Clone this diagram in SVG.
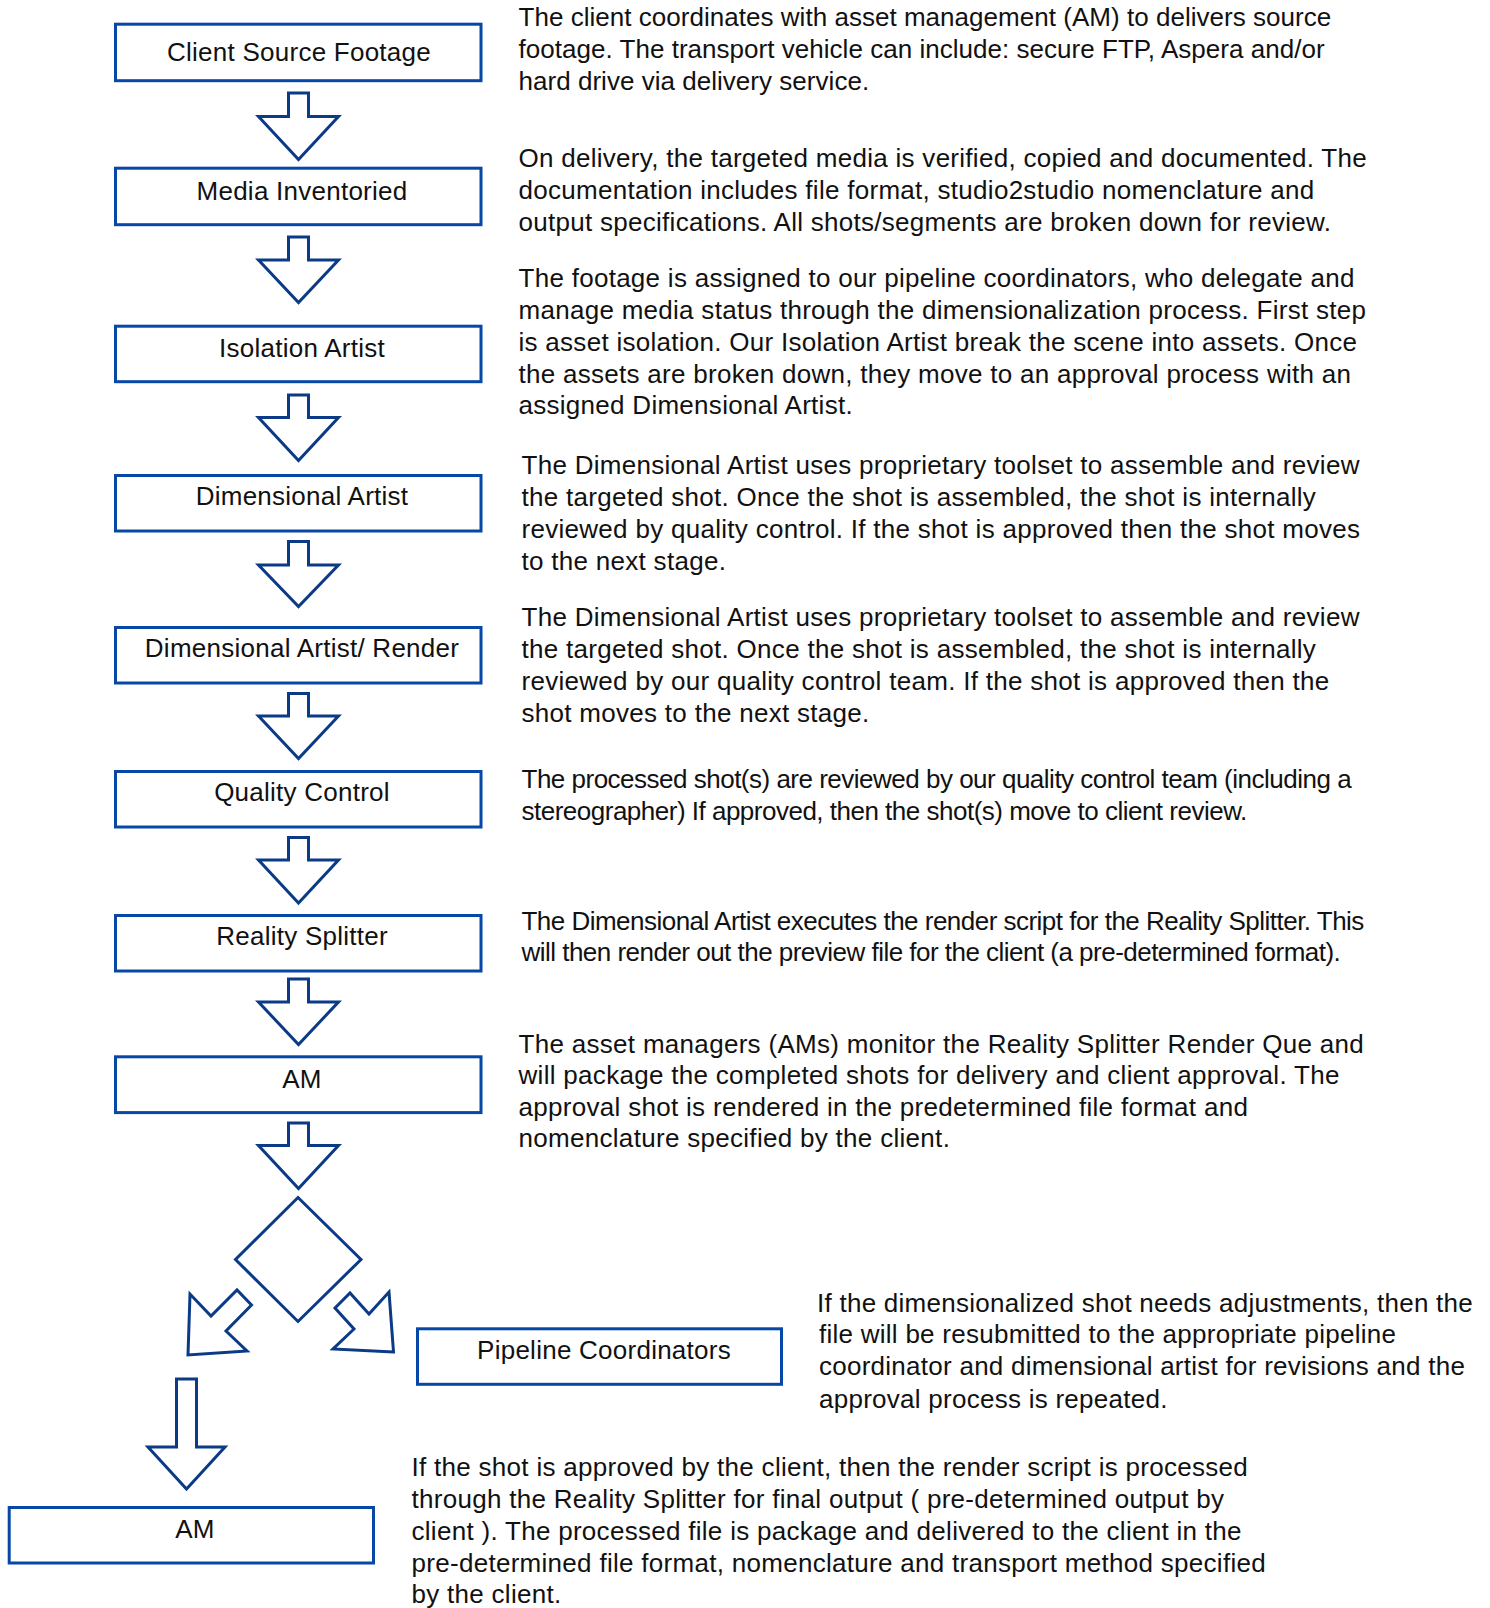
<svg xmlns="http://www.w3.org/2000/svg" width="1490" height="1608" viewBox="0 0 1490 1608">
<defs>
<style>
.box{fill:#ffffff;stroke:#0747a6;stroke-width:3}
.arr{fill:#ffffff;stroke:#0b3a86;stroke-width:3;stroke-linejoin:miter}
.lbl{font-family:"Liberation Sans",Arial,Helvetica,sans-serif;font-size:26px;fill:#111111;text-anchor:middle;letter-spacing:0.25px}
.txt{font-family:"Liberation Sans",Arial,Helvetica,sans-serif;font-size:26px;fill:#111111}
</style>
</defs>
<rect x="0" y="0" width="1490" height="1608" fill="#ffffff"/>

<g id="connectors">
<polygon class="arr" points="288.5,93 308.5,93 308.5,116.5 338.5,116.5 298.5,159.5 258.5,116.5 288.5,116.5"/>
<polygon class="arr" points="288.5,237 308.5,237 308.5,260 338.5,260 298.5,302.5 258.5,260 288.5,260"/>
<polygon class="arr" points="288.5,395 308.5,395 308.5,417.5 338.5,417.5 298.5,460.5 258.5,417.5 288.5,417.5"/>
<polygon class="arr" points="288.5,541.5 308.5,541.5 308.5,565 338.5,565 298.5,606.5 258.5,565 288.5,565"/>
<polygon class="arr" points="288.5,693.5 308.5,693.5 308.5,716 338.5,716 298.5,758.5 258.5,716 288.5,716"/>
<polygon class="arr" points="288.5,837.5 308.5,837.5 308.5,860 338.5,860 298.5,903 258.5,860 288.5,860"/>
<polygon class="arr" points="288.5,979 308.5,979 308.5,1002 338.5,1002 298.5,1044.5 258.5,1002 288.5,1002"/>
<polygon class="arr" points="288.5,1123 308.5,1123 308.5,1145.5 338.5,1145.5 298.5,1188.5 258.5,1145.5 288.5,1145.5"/>
<polygon class="arr" points="188,1355 190,1294 211,1316 237,1290 251.5,1305 226,1331 247,1351"/>
<polygon class="arr" points="393.5,1352 333,1349 354,1329 335,1308 350,1293 369,1314 389,1292"/>
<polygon class="arr" points="176.5,1379 196.5,1379 196.5,1447 225,1447 186.5,1489 148,1447 176.5,1447"/>
</g>

<g id="node-client-source-footage">
<rect class="box" x="115.5" y="24.2" width="365.5" height="56.5"/>
<text class="lbl" x="299" y="61">Client Source Footage</text>
</g>
<g id="node-media-inventoried">
<rect class="box" x="115.5" y="168.2" width="365.5" height="56.5"/>
<text class="lbl" x="302" y="200">Media Inventoried</text>
</g>
<g id="node-isolation-artist">
<rect class="box" x="115.5" y="326.2" width="365.5" height="55.5"/>
<text class="lbl" x="302" y="357.3">Isolation Artist</text>
</g>
<g id="node-dimensional-artist">
<rect class="box" x="115.5" y="475.5" width="365.5" height="55.5"/>
<text class="lbl" x="302" y="505.3">Dimensional Artist</text>
</g>
<g id="node-dimensional-artist-render">
<rect class="box" x="115.5" y="627.5" width="365.5" height="55.5"/>
<text class="lbl" x="302" y="656.7">Dimensional Artist/ Render</text>
</g>
<g id="node-quality-control">
<rect class="box" x="115.5" y="771.5" width="365.5" height="55.5"/>
<text class="lbl" x="302" y="800.7">Quality Control</text>
</g>
<g id="node-reality-splitter">
<rect class="box" x="115.5" y="915.5" width="365.5" height="55.5"/>
<text class="lbl" x="302" y="945">Reality Splitter</text>
</g>
<g id="node-am">
<rect class="box" x="115.5" y="1056.8" width="365.5" height="55.8"/>
<text class="lbl" x="302" y="1088">AM</text>
</g>
<g id="node-decision">
<polygon class="arr" points="298,1197.5 361,1259.5 298,1321.5 235.5,1259.5"/>
</g>
<g id="node-pipeline-coordinators">
<rect class="box" x="417.5" y="1328.8" width="364" height="55.5"/>
<text class="lbl" x="604" y="1359.3">Pipeline Coordinators</text>
</g>
<g id="node-am-final">
<rect class="box" x="9.2" y="1507.5" width="364.3" height="55.5"/>
<text class="lbl" x="195" y="1537.7">AM</text>
</g>

<g id="descriptions">
<text class="txt" style="letter-spacing:0.03px">
<tspan x="518.5" y="25.7">The client coordinates with asset management (AM) to delivers source</tspan>
<tspan x="518.5" y="58">footage. The transport vehicle can include: secure FTP, Aspera and/or</tspan>
<tspan x="518.5" y="90.3">hard drive via delivery service.</tspan>
</text>
<text class="txt" style="letter-spacing:0.28px">
<tspan x="518.5" y="166.7">On delivery, the targeted media is verified, copied and documented. The</tspan>
<tspan x="518.5" y="199">documentation includes file format, studio2studio nomenclature and</tspan>
<tspan x="518.5" y="230.7">output specifications. All shots/segments are broken down for review.</tspan>
</text>
<text class="txt" style="letter-spacing:0.28px">
<tspan x="518.5" y="287.3">The footage is assigned to our pipeline coordinators, who delegate and</tspan>
<tspan x="518.5" y="318.6">manage media status through the dimensionalization process. First step</tspan>
<tspan x="518.5" y="350.7">is asset isolation. Our Isolation Artist break the scene into assets. Once</tspan>
<tspan x="518.5" y="382.7">the assets are broken down, they move to an approval process with an</tspan>
<tspan x="518.5" y="414.3">assigned Dimensional Artist.</tspan>
</text>
<text class="txt" style="letter-spacing:0.29px">
<tspan x="521.5" y="474">The Dimensional Artist uses proprietary toolset to assemble and review</tspan>
<tspan x="521.5" y="505.7">the targeted shot. Once the shot is assembled, the shot is internally</tspan>
<tspan x="521.5" y="538">reviewed by quality control. If the shot is approved then the shot moves</tspan>
<tspan x="521.5" y="569.5">to the next stage.</tspan>
</text>
<text class="txt" style="letter-spacing:0.29px">
<tspan x="521.5" y="626">The Dimensional Artist uses proprietary toolset to assemble and review</tspan>
<tspan x="521.5" y="658.3">the targeted shot. Once the shot is assembled, the shot is internally</tspan>
<tspan x="521.5" y="690">reviewed by our quality control team. If the shot is approved then the</tspan>
<tspan x="521.5" y="721.7">shot moves to the next stage.</tspan>
</text>
<text class="txt" style="letter-spacing:-0.5px">
<tspan x="521.5" y="788.3">The processed shot(s) are reviewed by our quality control team (including a</tspan>
<tspan x="521.5" y="820">stereographer) If approved, then the shot(s) move to client review.</tspan>
</text>
<text class="txt" style="letter-spacing:-0.52px">
<tspan x="521.5" y="930">The Dimensional Artist executes the render script for the Reality Splitter. This</tspan>
<tspan x="521.5" y="961">will then render out the preview file for the client (a pre-determined format).</tspan>
</text>
<text class="txt" style="letter-spacing:0.3px">
<tspan x="518.5" y="1052.7">The asset managers (AMs) monitor the Reality Splitter Render Que and</tspan>
<tspan x="518.5" y="1084">will package the completed shots for delivery and client approval. The</tspan>
<tspan x="518.5" y="1116">approval shot is rendered in the predetermined file format and</tspan>
<tspan x="518.5" y="1147.3">nomenclature specified by the client.</tspan>
</text>
<text class="txt" style="letter-spacing:0.26px">
<tspan x="817" y="1312.3">If the dimensionalized shot needs adjustments, then the</tspan>
<tspan x="819" y="1343.3">file will be resubmitted to the appropriate pipeline</tspan>
<tspan x="819" y="1375">coordinator and dimensional artist for revisions and the</tspan>
<tspan x="819" y="1407.7">approval process is repeated.</tspan>
</text>
<text class="txt" style="letter-spacing:0.29px">
<tspan x="411.5" y="1476.3">If the shot is approved by the client, then the render script is processed</tspan>
<tspan x="411.5" y="1508">through the Reality Splitter for final output ( pre-determined output by</tspan>
<tspan x="411.5" y="1539.7">client ). The processed file is package and delivered to the client in the</tspan>
<tspan x="411.5" y="1572">pre-determined file format, nomenclature and transport method specified</tspan>
<tspan x="411.5" y="1603">by the client.</tspan>
</text>
</g>
</svg>
